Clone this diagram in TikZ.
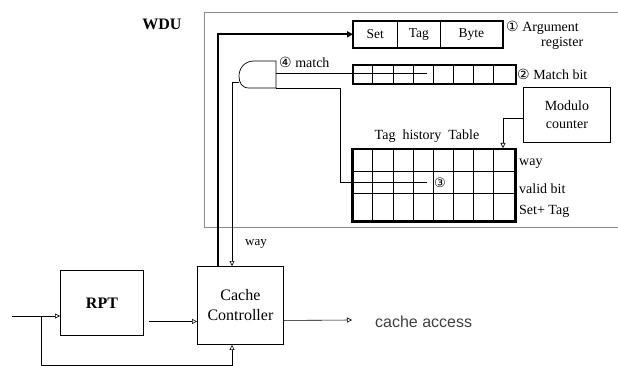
\documentclass[tikz,border=0pt]{standalone}
\usepackage{fontspec}
\setmainfont{Liberation Serif}
\setsansfont{Liberation Sans}
\newfontfamily\symf{DejaVu Sans}
\usetikzlibrary{arrows.meta,calc}
\begin{document}
\begin{tikzpicture}[x=1pt,y=-1pt,
  box/.style={draw=black, line width=0.9pt, inner sep=0pt, anchor=north west},
  cell/.style={draw=black, line width=0.6pt, inner sep=0pt, anchor=north west, font=\fontsize{13.5}{15}\selectfont},
  wire/.style={draw=black, line width=0.6pt},
  arr/.style={wire, -{Triangle[open,length=5pt,width=5pt]}},
  thickarr/.style={draw=black, line width=2pt, -{Triangle[open,length=6pt,width=6pt]}},
  lbl/.style={inner sep=0pt, font=\fontsize{14}{16}\selectfont},
  frame/.style={draw=black!45, line width=1pt},
  ]
\useasboundingbox (0,0) rectangle (618,366);

% WDU frame (open on the right)
\draw[frame] (618,13) -- (204,13) -- (204,227) -- (618,227);
\node[lbl, font=\fontsize{16}{18}\selectfont\bfseries] (wdu) at (162,24) {WDU};

% Argument register
\node[cell, minimum width=44pt, minimum height=26pt] (set) at (353,21) {Set};
\node[cell, minimum width=43pt, minimum height=26pt] (tag) at (397,21) {Tag};
\node[cell, minimum width=62pt, minimum height=26pt] (byte) at (440,21) {Byte};
\draw[line width=2pt] (set.north west) rectangle (byte.south east);
\node[lbl, anchor=west] (arg) at (506,28) {{\symf ①} Argument};
\node[lbl, anchor=west] (reg) at (541,43) {register};

% Match bit row
\node[box, line width=2pt, minimum width=163pt, minimum height=19pt] (mrow) at (352,64) {};
\foreach \x in {372,393,413,433,453,473,493}
  \draw[line width=0.6pt] (\x,64) -- (\x,83);
\node[lbl, anchor=west] (mb) at (517,74) {{\symf ②} Match bit};

% AND gate
\draw[line width=0.7pt] (276,61) -- (254,61)
  .. controls (244,61) and (239,69) .. (239,76)
  .. controls (239,83) and (242,88) .. (249,88) -- (276,88) -- cycle;
\coordinate (andout) at (239,82);
\coordinate (andin1) at (276,73);
\coordinate (andin2) at (276,88);
\node[lbl, anchor=west] (m4) at (279,62) {{\symf ④} match};

% Modulo counter
\node[box, minimum width=87pt, minimum height=55pt, align=center, font=\fontsize{14}{18}\selectfont] (mod) at (523,87) {Modulo\\counter};

% Tag history table
\node[box, line width=2.5pt, minimum width=163pt, minimum height=72pt] (tht) at (351,148) {};
\foreach \x in {372,393,413,433,453,473,493}
  \draw[line width=0.6pt] (\x,148) -- (\x,220);
\draw[line width=1pt] (351,172) -- (514,172);
\draw[line width=1pt] (351,194) -- (514,194);
\node[lbl] (ttl) at (427,136) {Tag\ \ history\ \ Table};
\node[lbl, anchor=west] (rway) at (519,164) {way};
\node[lbl, anchor=west] (rvalid) at (519,189) {valid bit};
\node[lbl, anchor=west] (rset) at (519,211) {Set+ Tag};
\node[inner sep=0pt, font=\symf\fontsize{13}{15}\selectfont] (c3) at (440,183) {③};

% RPT and Cache Controller
\node[box, minimum width=83pt, minimum height=65pt, font=\fontsize{16}{18}\selectfont\bfseries] (rpt) at (60,270) {RPT};
\node[box, minimum width=86pt, minimum height=78pt, align=center, font=\fontsize{16}{20}\selectfont] (cc) at (197,266) {Cache\\Controller};
\node[inner sep=0pt, anchor=west, font=\sffamily\fontsize{16}{18}\selectfont, text=black!75] (acc) at (375,322) {cache access};
\node[lbl, font=\fontsize{13}{15}\selectfont] (wayl) at (256,244) {way};

% coordinates
\coordinate (wayin) at ($(cc.north west)+(35,0)$);
\coordinate (ctlout) at ($(cc.north west)+(21,0)$);
\coordinate (ccbot) at ($(cc.south west)+(35,0)$);
\coordinate (mend) at (427,73);
\coordinate (tend) at (427,182);
\coordinate (thin) at (503,148);
\coordinate (src) at (12,316);
\coordinate (br) at (41,316);
\coordinate (accin) at (352,320);

% connectors
\draw[thickarr] (ctlout) |- (set.west);
\draw[arr] (andout) -- (andout -| wayin) -- (wayin);
\draw[wire] (andin1) -- (mend);
\draw[wire] (andin2) -- (340,88) -- (340,182) -- (tend);
\draw[arr] ($(mod.west)+(0,3)$) -| (thin);
\draw[arr] (src) -- (src -| rpt.west);
\draw[arr] (br) -- (41,365) -| (ccbot);
\draw[arr] ($(rpt.east)+(5,18.5)$) -- ($(cc.west)+(0,16)$);
\draw[arr] ($(cc.east)+(0,15)$) -- (accin);
\end{tikzpicture}
\end{document}
